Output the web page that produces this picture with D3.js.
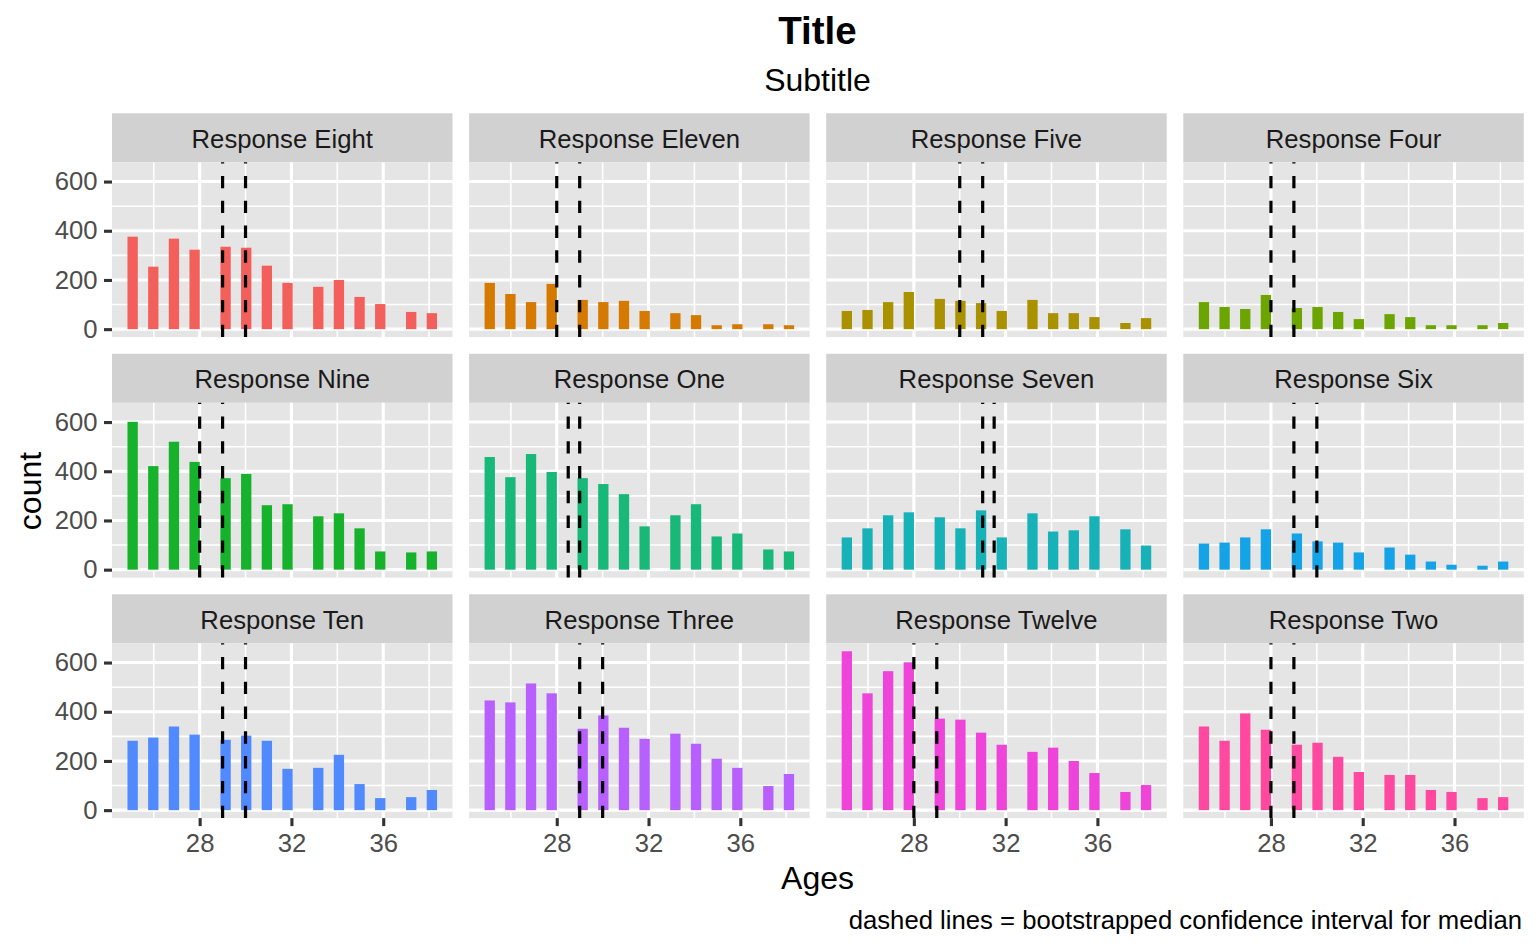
<!DOCTYPE html>
<html lang="en">
<head>
<meta charset="UTF-8">
<title>Ages by response</title>
<script src="https://cdn.jsdelivr.net/npm/d3@7"></script>
<style>
body { margin: 0; background: #fff; }
svg text { font-family: "Liberation Sans", Arial, Helvetica, sans-serif; }
</style>
</head>
<body>
<div id="chart"></div>
<script>
// facet names, in the order ggplot sorts them
var responses = ["Response Eight", "Response Eleven", "Response Five", "Response Four",
                 "Response Nine", "Response One", "Response Seven", "Response Six",
                 "Response Ten", "Response Three", "Response Twelve", "Response Two"];

// centres of the histogram bins that are not empty (ages)
var binCenters = [25.08, 25.98, 26.88, 27.78, 29.13, 30.03, 30.93, 31.83, 33.17, 34.07, 34.97, 35.87, 37.22, 38.12];
var binWidth = 0.45;

// counts per bin
var eight  = [376, 254, 368, 323, 335, 331, 258, 188, 172, 200, 131, 102, 70, 65];
var eleven = [188, 143, 110, 184, 119, 110, 115, 74, 65, 57, 16, 20, 20, 16];
var five   = [74, 78, 110, 151, 123, 115, 106, 74, 119, 65, 65, 49, 25, 45];
var four   = [110, 90, 82, 139, 86, 90, 70, 41, 61, 49, 16, 16, 16, 25];
var nine   = [601, 421, 520, 438, 372, 389, 262, 266, 217, 229, 168, 74, 70, 74];
var one    = [458, 376, 470, 397, 372, 348, 307, 176, 221, 266, 135, 147, 82, 74];
var seven  = [131, 168, 221, 233, 213, 168, 241, 131, 229, 155, 160, 217, 164, 98];
var six    = [106, 110, 131, 164, 147, 115, 110, 70, 90, 61, 33, 20, 16, 33];
var ten    = [282, 295, 340, 307, 286, 303, 282, 168, 172, 225, 106, 49, 53, 82];
var three  = [446, 438, 515, 475, 331, 385, 335, 290, 311, 270, 209, 172, 98, 147];
var twelve = [646, 475, 565, 601, 372, 368, 315, 266, 237, 254, 200, 151, 74, 102];
var two    = [340, 282, 393, 327, 266, 274, 217, 155, 143, 143, 82, 74, 49, 53];
var counts = [eight, eleven, five, four, nine, one, seven, six, ten, three, twelve, two];

// bootstrapped confidence interval for the median
var ciLow  = [29, 28, 30, 28, 28, 28.5, 31, 29, 29, 29, 28, 28];
var ciHigh = [30, 29, 31, 29, 29, 29, 31.5, 30, 30, 30, 29, 29];

var xTicks = [28, 32, 36], xMinor = [26, 30, 34, 38];
var yTicks = [0, 200, 400, 600], yMinor = [100, 300, 500];

var colors = ["#f35f5a", "#d67900", "#aa9100", "#6ca500", "#17b22c", "#18b878",
              "#16b2b8", "#15a3e8", "#5189ff", "#b75fff", "#ee44da", "#ff48a0"];

// layout
var width = 1540, height = 951;
var gridLeft = 112, gridTop = 113.3;
var panelW = 340.5, stripH = 49, panelH = 174.8;
var gapX = 16.6, gapY = 16.7;
var nCol = 4;

var svg = d3.select("#chart")
  .append("svg")
    .attr("width", width)
    .attr("height", height);

svg.append("rect").attr("width", width).attr("height", height).attr("fill", "#fff");

// shared scales (fixed scales in facet_wrap), 5% expansion like ggplot
var xLo = d3.min(binCenters) - binWidth / 2,
    xHi = d3.max(binCenters) + binWidth / 2,
    xPad = (xHi - xLo) * 0.05;
var x = d3.scaleLinear()
  .domain([xLo - xPad, xHi + xPad])
  .range([0, panelW]);

var yMax = d3.max(counts, function(c) { return d3.max(c); }),
    yPad = yMax * 0.05;
var y = d3.scaleLinear()
  .domain([-yPad, yMax + yPad])
  .range([panelH, 0]);

responses.forEach(function(name, i) {
  var col = i % nCol, row = Math.floor(i / nCol);
  var g = svg.append("g")
    .attr("transform", "translate(" + (gridLeft + col * (panelW + gapX)) + "," + (gridTop + row * (stripH + panelH + gapY)) + ")");

  // strip
  g.append("rect")
    .attr("width", panelW).attr("height", stripH)
    .attr("fill", "#d1d1d1");
  g.append("text")
    .attr("x", panelW / 2).attr("y", stripH / 2 + 10)
    .attr("text-anchor", "middle")
    .style("font-size", "25.7px")
    .style("fill", "#1a1a1a")
    .text(name);

  var p = g.append("g").attr("transform", "translate(0," + stripH + ")");
  p.append("rect")
    .attr("width", panelW).attr("height", panelH)
    .attr("fill", "#e5e5e5");

  // grid
  p.selectAll(".ymin").data(yMinor).enter().append("line")
    .attr("x1", 0).attr("x2", panelW)
    .attr("y1", function(d) { return y(d); }).attr("y2", function(d) { return y(d); })
    .attr("stroke", "#fff").attr("stroke-width", 1.55);
  p.selectAll(".xmin").data(xMinor).enter().append("line")
    .attr("y1", 0).attr("y2", panelH)
    .attr("x1", function(d) { return x(d); }).attr("x2", function(d) { return x(d); })
    .attr("stroke", "#fff").attr("stroke-width", 1.55);
  p.selectAll(".ymaj").data(yTicks).enter().append("line")
    .attr("x1", 0).attr("x2", panelW)
    .attr("y1", function(d) { return y(d); }).attr("y2", function(d) { return y(d); })
    .attr("stroke", "#fff").attr("stroke-width", 3.1);
  p.selectAll(".xmaj").data(xTicks).enter().append("line")
    .attr("y1", 0).attr("y2", panelH)
    .attr("x1", function(d) { return x(d); }).attr("x2", function(d) { return x(d); })
    .attr("stroke", "#fff").attr("stroke-width", 3.1);

  // bars
  p.selectAll(".bar").data(counts[i]).enter().append("rect")
    .attr("x", function(d, j) { return x(binCenters[j] - binWidth / 2); })
    .attr("width", function(d, j) { return x(binCenters[j] + binWidth / 2) - x(binCenters[j] - binWidth / 2); })
    .attr("y", function(d) { return y(d); })
    .attr("height", function(d) { return y(0) - y(d); })
    .attr("fill", colors[i]);

  // dashed lines, drawn bottom to top so the dash pattern starts at the bottom
  p.selectAll(".ci").data([ciLow[i], ciHigh[i]]).enter().append("line")
    .attr("x1", function(d) { return x(d); }).attr("x2", function(d) { return x(d); })
    .attr("y1", panelH).attr("y2", 0)
    .attr("stroke", "#000").attr("stroke-width", 3.2)
    .attr("stroke-dasharray", "12.4,12.4");

  // y axis on first column
  if (col == 0) {
    var ya = p.append("g")
      .call(d3.axisLeft(y).tickValues(yTicks).tickSize(8).tickPadding(6.4));
    ya.select(".domain").remove();
    ya.selectAll("line").attr("stroke", "#333").attr("stroke-width", 3.1);
    ya.selectAll("text").style("font-size", "25.7px").style("fill", "#4d4d4d").attr("font-family", null);
  }
  // x axis on bottom row
  if (row == 2) {
    var xa = p.append("g")
      .attr("transform", "translate(0," + panelH + ")")
      .call(d3.axisBottom(x).tickValues(xTicks).tickSize(8).tickPadding(7.4));
    xa.select(".domain").remove();
    xa.selectAll("line").attr("stroke", "#333").attr("stroke-width", 3.1);
    xa.selectAll("text").style("font-size", "25.7px").style("fill", "#4d4d4d").attr("font-family", null);
  }
});

// titles
svg.append("text")
  .attr("x", 817.5).attr("y", 44)
  .attr("text-anchor", "middle")
  .style("font-size", "38.5px").style("font-weight", "bold")
  .text("Title");
svg.append("text")
  .attr("x", 817.5).attr("y", 91)
  .attr("text-anchor", "middle")
  .style("font-size", "32px")
  .text("Subtitle");
svg.append("text")
  .attr("x", 817.5).attr("y", 889)
  .attr("text-anchor", "middle")
  .style("font-size", "32px")
  .text("Ages");
svg.append("text")
  .attr("transform", "translate(41,491) rotate(-90)")
  .attr("text-anchor", "middle")
  .style("font-size", "32px")
  .text("count");
svg.append("text")
  .attr("x", 1522).attr("y", 929)
  .attr("text-anchor", "end")
  .style("font-size", "25.7px")
  .text("dashed lines = bootstrapped confidence interval for median");
</script>
</body>
</html>
